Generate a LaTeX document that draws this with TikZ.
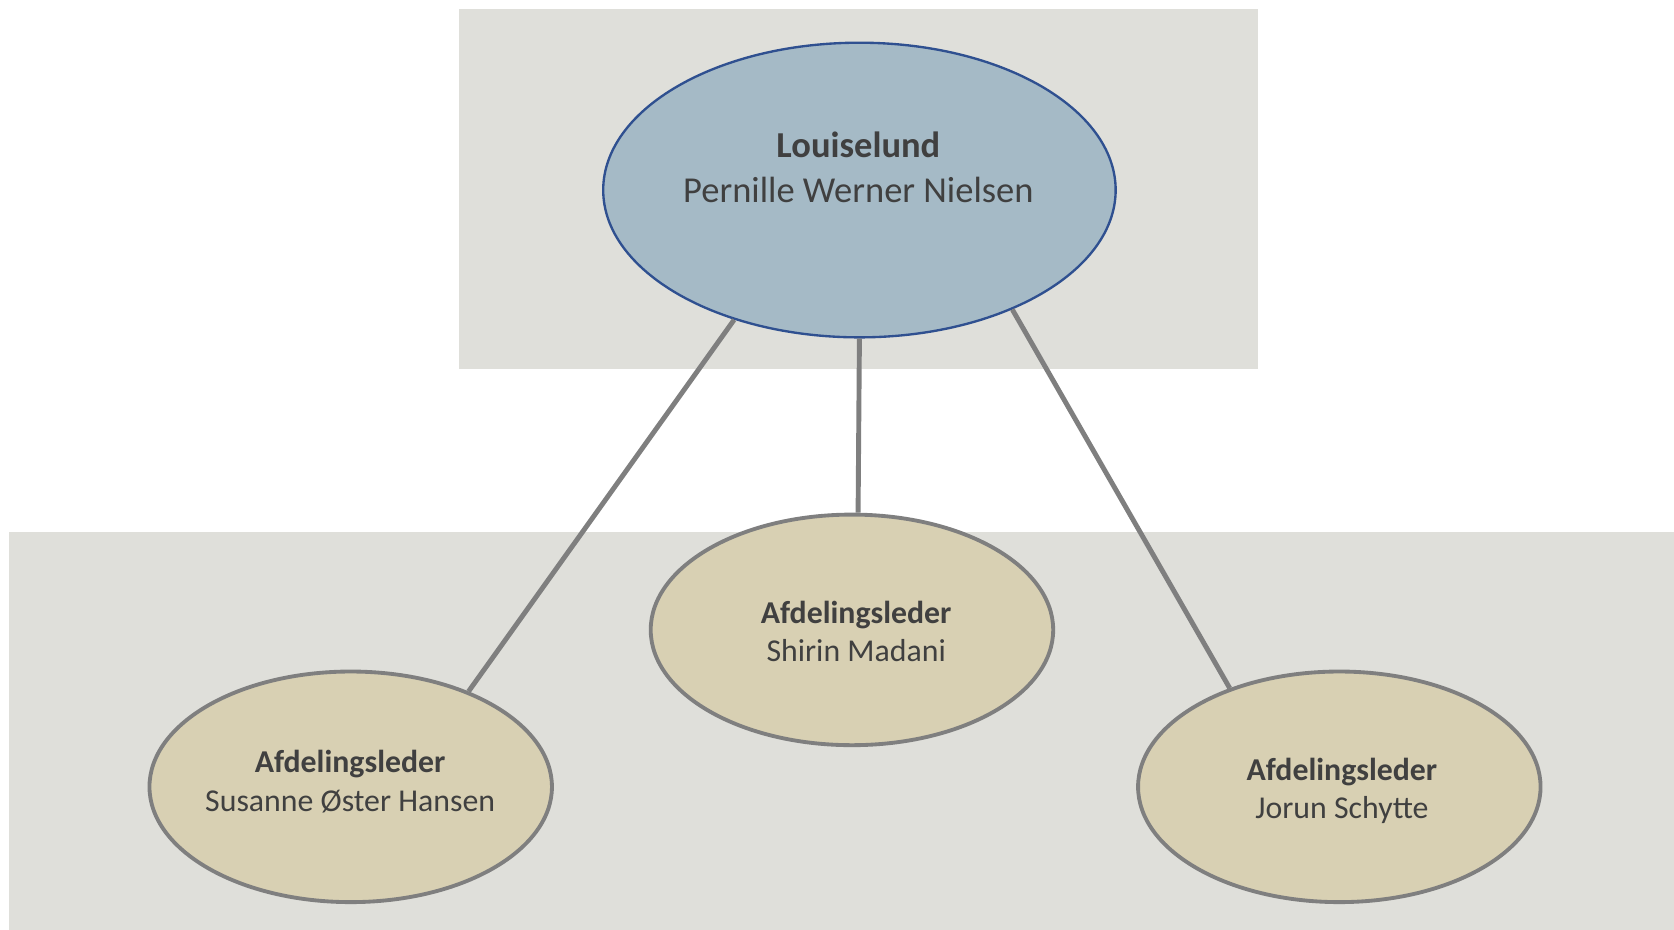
\documentclass[tikz,border=0pt]{standalone}
\usepackage{fontspec}
\setmainfont{Carlito}
\usetikzlibrary{shapes.geometric}
\definecolor{bandgray}{HTML}{DFDFDA}
\definecolor{topfill}{HTML}{A5BAC6}
\definecolor{topline}{HTML}{2F5090}
\definecolor{leaffill}{HTML}{D8D0B3}
\definecolor{greyline}{HTML}{7F7F7F}
\definecolor{txt}{HTML}{404040}
\begin{document}
\begin{tikzpicture}[x=0.5pt,y=-0.5pt,
  band/.style={fill=bandgray},
  topnode/.style={ellipse, draw=topline, line width=1.1pt, fill=topfill,
    minimum width=240pt, minimum height=138pt, inner sep=0pt},
  leafnode/.style={ellipse, draw=greyline, line width=1.8pt, fill=leaffill,
    minimum width=188.5pt, minimum height=108pt, inner sep=0pt},
  conn/.style={draw=greyline, line width=2.3pt},
  toptext/.style={anchor=base, inner sep=0pt, text=txt, font=\fontsize{17.1}{21}\selectfont},
  leaftext/.style={anchor=base, inner sep=0pt, text=txt, font=\fontsize{14.9}{18}\selectfont}]
\useasboundingbox (0,0) rectangle (1568,871);
\fill[band] (430,8) rectangle (1178,346);
\fill[band] (8,498) rectangle (1568,871);

\node[topnode] (top) at (805,178) {};
\node[leafnode] (mid) at (798,590) {};
\node[leafnode] (left) at (328.5,737) {};
\node[leafnode] (right) at (1254.5,737) {};

\draw[conn] (top.226.2) -- (left.39.6);
\draw[conn] (top.270) -- (mid.87.3);
\draw[conn] (top.-38.3) -- (right.138.7);

\node[toptext] (topA) at (804,148) {\bfseries Louiselund};
\node[toptext] (topB) at (804,190) {Pernille Werner Nielsen};

\node[leaftext] (midA) at (802,584) {\bfseries Afdelingsleder};
\node[leaftext] (midB) at (802,620) {Shirin Madani};

\node[leaftext] (leftA) at (328,724) {\bfseries Afdelingsleder};
\node[leaftext] (leftB) at (328,760) {Susanne Øster Hansen};

\node[leaftext] (rightA) at (1257,731) {\bfseries Afdelingsleder};
\node[leaftext] (rightB) at (1257,767) {Jorun Schytte};
\end{tikzpicture}
\end{document}
